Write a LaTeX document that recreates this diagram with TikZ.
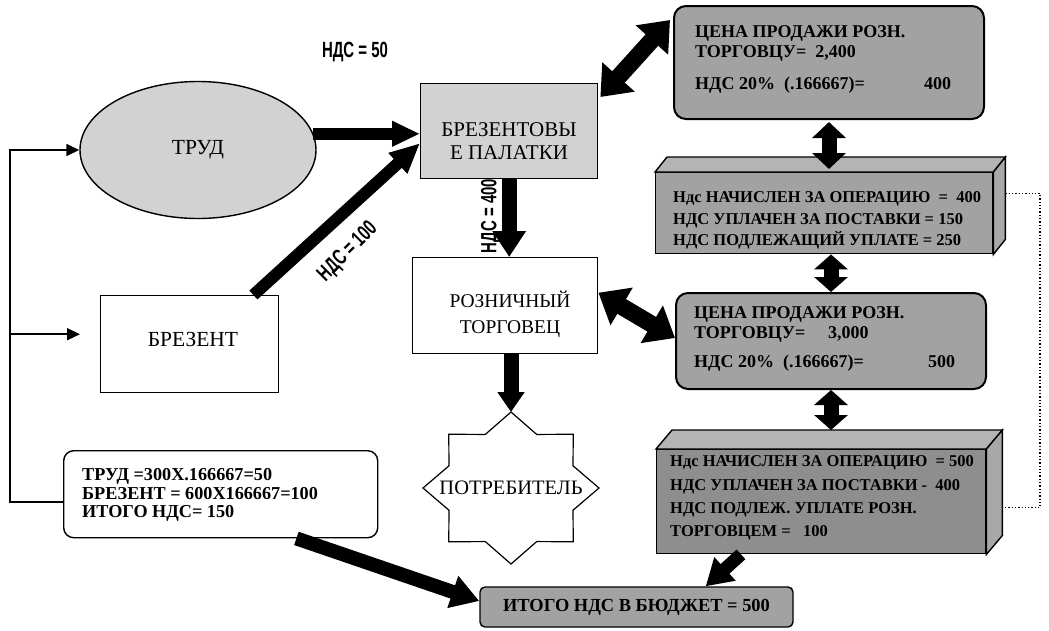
\documentclass[tikz,border=0pt]{standalone}
\usepackage{fontspec}
\setmainfont{Liberation Serif}
\newfontfamily\narrowsans[FakeStretch=0.68]{Liberation Sans}
\usetikzlibrary{arrows.meta,calc,shapes.geometric}

\definecolor{paleshade}{HTML}{D2D2D2}
\definecolor{midshade}{HTML}{A2A2A2}
\definecolor{darkshade}{HTML}{8E8E8E}
\definecolor{topshade}{HTML}{B4B4B4}
\definecolor{sideshade}{HTML}{A8A8A8}

\begin{document}
\begin{tikzpicture}[x=1pt,y=-1pt,
  outline/.style={draw=black, line width=1.4pt},
  plainbox/.style={outline, fill=white, inner sep=0pt},
  labelfont/.style={font=\fontsize{21}{23}\selectfont},
  boxline/.style={anchor=base west, inner sep=0pt, font=\fontsize{16.5}{19}\selectfont\bfseries},
  priceline/.style={anchor=base west, inner sep=0pt, font=\fontsize{18}{20}\selectfont\bfseries},
  sumline/.style={anchor=base west, inner sep=0pt, font=\fontsize{18.2}{19}\selectfont\bfseries},
  wire/.style={draw=black, line width=1.6pt},
  wiretip/.style={wire, -{Triangle[length=13pt,width=12pt]}},
  fat/.style n args={3}{draw=black, line width=#1, -{Triangle[length=#2,width=#3]}},
  fatboth/.style n args={3}{draw=black, line width=#1,
    {Triangle[length=#2,width=#3]}-{Triangle[length=#2,width=#3]}},
  vatlabel/.style={font=\narrowsans\bfseries\fontsize{22}{22}\selectfont, inner sep=0pt},
]
\useasboundingbox (0,0) rectangle (1049,630);

% ---------- producers ----------
\node[ellipse, outline, fill=paleshade, minimum width=236pt, minimum height=137pt,
      inner sep=0pt, font=\fontsize{21.5}{23}\selectfont] (trud) at (198,150) {ТРУД};
\node[plainbox, minimum width=178pt, minimum height=97pt, anchor=north west] (bres) at (100,295) {};
\node[font=\fontsize{21.5}{23}\selectfont] (brestext) at (193,339) {БРЕЗЕНТ};

\node[outline, fill=paleshade, minimum width=177pt, minimum height=95pt,
      anchor=north west, inner sep=0pt] (tent) at (420,83) {};
\node[labelfont, align=center] (tenttext) at (509,141) {БРЕЗЕНТОВЫ\\Е ПАЛАТКИ};

\node[plainbox, minimum width=185pt, minimum height=96pt, anchor=north west] (retail) at (412,257) {};
\node[font=\fontsize{19.5}{23}\selectfont, align=center] (retailtext) at (510,314)
  {РОЗНИЧНЫЙ\\[3pt]ТОРГОВЕЦ};

% ---------- consumer star ----------
\node[font=\fontsize{20.5}{23}\selectfont] (cons) at (511,488) {ПОТРЕБИТЕЛЬ};
\draw[outline, line width=1.2pt, shift={(cons.center)}]
  plot[samples at={0,22.5,...,337.5}]
  ({88*(0.8815+0.1185*cos(8*\x))*cos(\x)},{76*(0.8815+0.1185*cos(8*\x))*sin(\x)}) -- cycle;

% ---------- VAT summary ----------
\node[outline, fill=white, rounded corners=10pt, minimum width=314pt, minimum height=87pt,
      anchor=north west, inner sep=0pt] (summary) at (63,450) {};
\node[sumline] (sum1) at (82,480) {ТРУД =300X.166667=50};
\node[sumline] (sum2) at (82,499) {БРЕЗЕНТ = 600X166667=100};
\node[sumline] (sum3) at (82,517) {ИТОГО НДС= 150};

\node[outline, fill=midshade, rounded corners=5pt, minimum width=313pt, minimum height=40pt,
      inner sep=0pt, font=\fontsize{18.4}{18}\selectfont\bfseries] (total) at (636.5,607)
      {ИТОГО НДС В БЮДЖЕТ = 500};

% ---------- price to retailer ----------
\node[outline, line width=2pt, fill=midshade, rounded corners=12pt, minimum width=310pt,
      minimum height=113pt, anchor=north west, inner sep=0pt] (price1) at (673,5) {};
\node[priceline] (p1a) at (695,37.5) {ЦЕНА ПРОДАЖИ РОЗН.};
\node[priceline] (p1b) at (695,57.5) {ТОРГОВЦУ=~~2,400};
\node[priceline] (p1c) at (695,89.5) {\makebox[256pt]{НДС 20\%~~(.166667)=\hfill 400}};

% ---------- VAT of the tent maker (block) ----------
\node[outline, fill=midshade, minimum width=337pt, minimum height=81pt,
      anchor=north west, inner sep=0pt] (vat1) at (655,172) {};
\draw[outline, fill=topshade] (vat1.north west) -- ++(12,-15)
  -- ($(vat1.north east)+(12,-15)$) -- (vat1.north east) -- cycle;
\draw[outline, fill=sideshade] (vat1.north east) -- ++(12,-15)
  -- ($(vat1.south east)+(12,-15)$) -- (vat1.south east) -- cycle;
\node[boxline] (v1a) at (673,202.5) {Ндс НАЧИСЛЕН ЗА ОПЕРАЦИЮ~~=~~400};
\node[boxline] (v1b) at (673,224.5) {НДС УПЛАЧЕН ЗА ПОСТАВКИ = 150};
\node[boxline] (v1c) at (673,245.5) {НДС ПОДЛЕЖАЩИЙ УПЛАТЕ = 250};

% ---------- price to consumer ----------
\node[outline, line width=2pt, fill=midshade, rounded corners=12pt, minimum width=310pt,
      minimum height=96pt, anchor=north west, inner sep=0pt] (price2) at (675,292) {};
\node[priceline] (p2a) at (694,318) {ЦЕНА ПРОДАЖИ РОЗН.};
\node[priceline] (p2b) at (694,338) {\makebox[134pt][l]{ТОРГОВЦУ=}3,000};
\node[priceline] (p2c) at (694,367) {\makebox[261pt]{НДС 20\%~~(.166667)=\hfill 500}};

% ---------- VAT of the retailer (block) ----------
\node[outline, fill=darkshade, minimum width=329pt, minimum height=104pt,
      anchor=north west, inner sep=0pt] (vat2) at (656,449) {};
\draw[outline, fill=topshade] (vat2.north west) -- ++(16,-19)
  -- ($(vat2.north east)+(16,-19)$) -- (vat2.north east) -- cycle;
\draw[outline, fill=sideshade] (vat2.north east) -- ++(16,-19)
  -- ($(vat2.south east)+(16,-19)$) -- (vat2.south east) -- cycle;
\node[boxline] (v2a) at (670,466) {Ндс НАЧИСЛЕН ЗА ОПЕРАЦИЮ~~=~500};
\node[boxline] (v2b) at (670,490) {НДС УПЛАЧЕН ЗА ПОСТАВКИ -~~400};
\node[boxline] (v2c) at (670,513) {НДС ПОДЛЕЖ. УПЛАТЕ РОЗН.};
\node[boxline] (v2d) at (670,536) {ТОРГОВЦЕМ =~~~100};

% ---------- thin feed lines ----------
\coordinate (rail) at (10,0);
\coordinate (sumjoin) at ($(summary.west)+(0,8)$);
\coordinate (brestap) at ($(bres.west)+(-20,-10)$);
\draw[wiretip] (sumjoin) -- (sumjoin -| rail) |- (trud.west);
\draw[wiretip] (brestap -| rail) -- (brestap);

% ---------- dotted link between the VAT blocks ----------
\coordinate (loopx) at (1040,0);
\coordinate (dotfrom) at ($(vat1.east)+(12,-20)$);
\coordinate (dotto) at ($(vat2.east)+(16,6)$);
\draw[dotted, line width=1.3pt] (dotfrom) -- (dotfrom -| loopx) |- (dotto);

% ---------- heavy arrows ----------
\draw[fat={12pt}{28pt}{24pt}] (trud.8) -- (trud.8 -| tent.west);
\draw[fat={12pt}{30pt}{26pt}] ($(bres.north east)+(-26,0)$) -- ($(tent.west)+(0,12)$);
\draw[fat={15pt}{26pt}{32pt}] (tent.south) -- (tent.south |- retail.north);
\draw[fat={15pt}{20pt}{26pt}] (retail.south -| cons) -- ($(cons)+(0,-76)$);
\draw[fat={14pt}{28pt}{32pt}] ($(summary.south east)+(-82,0)$) -- ($(total.west)+(0,-6)$);
\draw[fat={13pt}{26pt}{30pt}] ($(vat2.south west)+(85,0)$) -- ($(total.north east)+(-88,0)$);

\draw[fatboth={17pt}{27pt}{42pt}] ($(tent.north east)+(2,14)$) -- ($(price1.north west)+(-3,15)$);
\draw[fatboth={17pt}{27pt}{42pt}] ($(retail.east)+(0,-13)$) -- ($(price2.west)+(0,-3)$);
\draw[fatboth={15pt}{16pt}{33pt}] ($(price1.south)+(0,2)$) -- ($(price1.south |- vat1.north)+(0,-3)$);
\draw[fatboth={15pt}{15pt}{33pt}] (price2.north |- vat1.south) -- (price2.north);
\draw[fatboth={15pt}{15pt}{33pt}] (price2.south) -- ($(price2.south |- vat2.north)+(0,-19)$);

% ---------- VAT labels on the flows ----------
\node[vatlabel] (vat50) at (355,52) {НДС = 50};
\node[vatlabel, rotate=45] (vat100) at (348,252) {НДС = 100};
\node[vatlabel, rotate=90] (vat400) at (491,216) {НДС = 400};
\end{tikzpicture}
\end{document}
